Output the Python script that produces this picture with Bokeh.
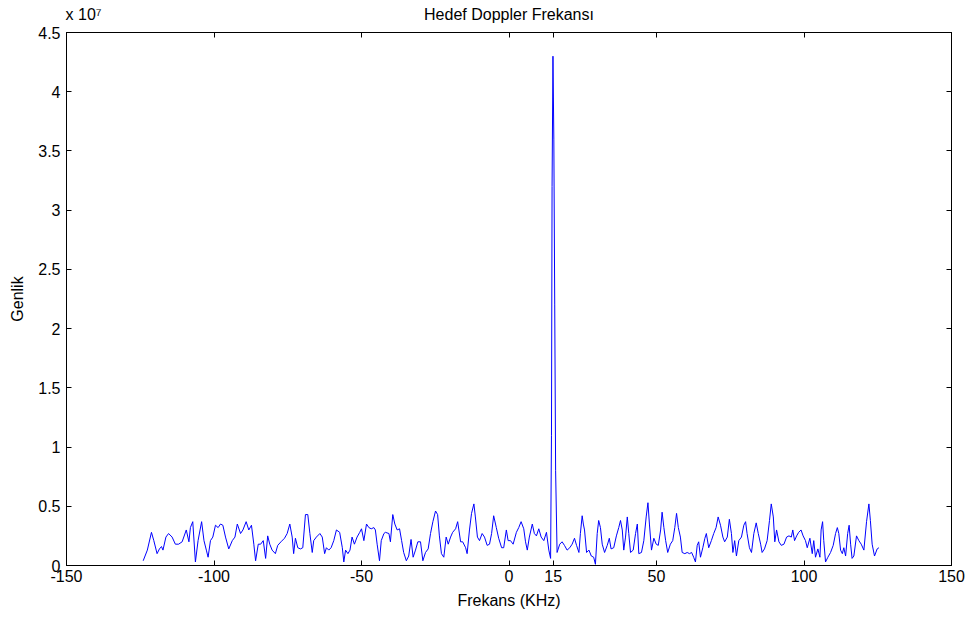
from bokeh.plotting import figure
from bokeh.models import Range1d, FixedTicker, LinearAxis, ColumnDataSource
from bokeh.embed import file_html
from bokeh.resources import INLINE

# Frequency (kHz) and amplitude (x 1e7)
frekans = [
    -124.0, -122.6, -121.2, -120.4, -119.3, -118.5, -117.8, -117.3, -116.3, -115.4,
    -114.2, -113.1, -112.0, -110.8, -109.4, -108.5, -108.0, -107.2, -106.3, -105.4,
    -104.2, -103.4, -102.6, -102.0, -101.2, -100.4, -99.5, -98.6, -97.8, -97.0,
    -96.1, -95.0, -93.8, -92.9, -92.1, -91.0, -90.2, -89.1, -88.2, -87.3,
    -86.5, -85.9, -85.0,
    -84.2, -83.3, -82.5, -81.8, -81.1, -80.3, -79.2, -78.4, -77.3, -76.1,
    -75.2, -74.3, -73.5, -73.0, -72.4, -71.6, -70.7, -69.9, -69.0, -68.2,
    -67.5, -66.7, -66.2, -65.3, -64.1, -63.3, -62.5, -61.9, -61.1, -60.3,
    -59.4, -58.5, -57.4, -56.5, -56.0, -55.4, -54.6, -53.9, -53.2, -52.4,
    -51.5, -50.6, -50.0, -49.2, -48.3, -47.5, -46.7, -45.8, -45.3, -44.7,
    -43.9, -43.3, -42.4,
    -41.9, -40.7, -40.2, -39.4, -38.7, -37.9, -37.1, -36.4, -35.7, -34.8,
    -34.0, -33.2, -32.5, -31.7, -30.9, -30.0, -29.2, -28.3, -27.4, -26.6,
    -25.8, -24.9, -24.2, -23.6, -22.9, -22.1, -21.3, -20.6, -19.8, -19.1,
    -18.1, -17.4, -16.4, -15.7, -14.7, -14.2, -13.4, -12.7, -11.9, -11.4,
    -10.7, -10.0, -9.1, -8.3, -7.4, -6.6, -5.9, -5.2, -4.3, -3.5,
    -2.5, -1.8, -0.9, -0.3,
    0.5, 1.4, 2.5, 3.3, 4.1, 5.0, 5.6, 6.2, 6.9, 7.9,
    8.6, 9.3, 10.1, 10.9, 11.8, 12.7, 13.5, 14.1,
    14.4, 14.6, 14.9, 15.2, 15.5, 15.8,
    16.3, 17.2, 18.0, 18.8, 19.7, 20.6, 21.4, 22.2, 22.9, 23.7,
    24.2, 24.8, 25.2, 25.6, 26.3, 27.1, 27.9, 28.7, 29.3, 29.9,
    30.4, 31.0, 31.6, 32.4, 33.3, 34.0, 34.6, 35.5, 36.4, 37.2,
    37.8, 38.4, 38.9, 39.5, 40.1, 40.6, 41.2, 42.1, 42.9, 43.5,
    44.0, 44.9, 45.7, 46.5, 47.1, 47.6, 48.3, 49.1, 49.9, 50.6,
    51.4, 51.9, 52.5, 53.1, 53.8, 54.7, 55.5, 56.2, 56.8, 57.4,
    58.1, 58.7, 59.6, 60.4, 61.2, 61.9, 62.6, 63.2, 63.8, 64.3,
    64.9, 65.7, 66.4, 66.9, 67.7, 68.6, 69.4, 70.2, 70.9, 71.7,
    72.5, 73.1, 74.0, 74.7, 75.4, 75.9, 76.5, 77.1, 77.9, 78.8,
    79.6, 80.2, 80.7, 81.5, 82.2, 83.0, 83.8, 84.5,
    85.3, 85.8, 86.6, 87.5, 88.3, 88.9, 89.6, 90.1, 90.7, 91.5,
    92.3, 93.2, 94.1, 94.9, 95.7, 96.2, 96.8, 97.5, 98.2, 99.0,
    99.7, 100.5, 101.1, 102.0, 102.8, 103.3, 103.9, 104.7, 105.4, 105.8,
    106.3, 106.7, 107.3, 108.1, 109.0, 109.9, 110.7, 111.3, 111.8, 112.4,
    113.0, 113.5, 114.1, 114.8, 115.3, 115.8, 116.3, 116.9, 117.8, 118.6,
    119.4, 120.3, 121.2, 122.0, 122.5, 123.1, 123.9, 124.8, 125.4,
]

genlik_e7 = [
    0.04, 0.13, 0.28, 0.21, 0.10, 0.14, 0.16, 0.13, 0.24, 0.27,
    0.24, 0.18, 0.18, 0.20, 0.30, 0.20, 0.32, 0.37, 0.03, 0.21,
    0.37, 0.21, 0.13, 0.07, 0.21, 0.24, 0.34, 0.32, 0.35, 0.34,
    0.24, 0.14, 0.21, 0.24, 0.35, 0.27, 0.30, 0.37, 0.30, 0.34,
    0.18, 0.04, 0.18,
    0.18, 0.21, 0.06, 0.25, 0.18, 0.13, 0.10, 0.17, 0.20, 0.23,
    0.27, 0.35, 0.24, 0.10, 0.23, 0.15, 0.14, 0.15, 0.43, 0.43,
    0.27, 0.11, 0.21, 0.24, 0.27, 0.24, 0.10, 0.15, 0.13, 0.15,
    0.21, 0.30, 0.28, 0.15, 0.03, 0.13, 0.10, 0.13, 0.24, 0.18,
    0.24, 0.28, 0.31, 0.21, 0.35, 0.32, 0.31, 0.32, 0.30, 0.18,
    0.04, 0.21, 0.27,
    0.28, 0.27, 0.20, 0.43, 0.35, 0.30, 0.31, 0.21, 0.11, 0.04,
    0.08, 0.22, 0.07, 0.13, 0.20, 0.20, 0.04, 0.11, 0.14, 0.27,
    0.37, 0.46, 0.43, 0.25, 0.10, 0.07, 0.24, 0.18, 0.24, 0.28,
    0.31, 0.37, 0.20, 0.20, 0.15, 0.10, 0.30, 0.44, 0.52, 0.41,
    0.24, 0.21, 0.27, 0.24, 0.17, 0.18, 0.27, 0.42, 0.32, 0.23,
    0.15, 0.15, 0.30, 0.21,
    0.21, 0.18, 0.28, 0.32, 0.37, 0.31, 0.20, 0.13, 0.24, 0.35,
    0.27, 0.25, 0.31, 0.24, 0.21, 0.28, 0.13, 0.06,
    1.1, 3.2, 4.3, 3.6, 2.2, 0.8,
    0.11, 0.18, 0.20, 0.17, 0.13, 0.15, 0.18, 0.23, 0.17, 0.11,
    0.27, 0.42, 0.35, 0.30, 0.11, 0.13, 0.08, 0.07, 0.01, 0.27,
    0.38, 0.32, 0.18, 0.11, 0.17, 0.23, 0.14, 0.15, 0.25, 0.32,
    0.38, 0.30, 0.13, 0.24, 0.41, 0.27, 0.11, 0.13, 0.27, 0.35,
    0.10, 0.11, 0.21, 0.41, 0.53, 0.35, 0.13, 0.23, 0.18, 0.17,
    0.30, 0.45, 0.32, 0.21, 0.11, 0.18, 0.21, 0.32, 0.44, 0.32,
    0.24, 0.11, 0.10, 0.11, 0.10, 0.11, 0.07, 0.03, 0.17, 0.20,
    0.07, 0.15, 0.23, 0.27, 0.15, 0.21, 0.27, 0.32, 0.41, 0.34,
    0.24, 0.20, 0.24, 0.39, 0.27, 0.11, 0.21, 0.08, 0.21, 0.24,
    0.34, 0.37, 0.27, 0.15, 0.11, 0.27, 0.36, 0.27,
    0.18, 0.11, 0.14, 0.21, 0.38, 0.52, 0.41, 0.20, 0.30, 0.20,
    0.17, 0.18, 0.24, 0.25, 0.24, 0.30, 0.21, 0.25, 0.28, 0.30,
    0.25, 0.21, 0.15, 0.23, 0.10, 0.21, 0.07, 0.14, 0.07, 0.30,
    0.37, 0.21, 0.03, 0.07, 0.11, 0.17, 0.27, 0.32, 0.27, 0.13,
    0.10, 0.15, 0.08, 0.27, 0.34, 0.18, 0.06, 0.08, 0.25, 0.21,
    0.18, 0.13, 0.37, 0.52, 0.38, 0.18, 0.08, 0.14, 0.15,
]

x_ticks = [-150, -100, -50, 0, 15, 50, 100, 150]
x_tick_labels = ["-150", "-100", "-50", "0", "15", "50", "100", "150"]
y_ticks = [0, 0.5, 1, 1.5, 2, 2.5, 3, 3.5, 4, 4.5]
y_tick_labels = ["0", "0.5", "1", "1.5", "2", "2.5", "3", "3.5", "4", "4.5"]

title_text = "Hedef Doppler Frekansı"
multiplier_text = "x 10\u2077"
# where the header texts sit along the x axis (title centred, multiplier at left edge)
header_pos = [-144.2, 0]
header_text = [multiplier_text, title_text]

FONT = "Liberation Sans"
FS = "16px"

p = figure(width=972, height=619, output_backend="svg", toolbar_location=None,
           title=None,
           x_range=Range1d(-150, 150), y_range=Range1d(0, 4.5),
           min_border_left=66, min_border_right=21, min_border_top=32, min_border_bottom=54)
p.background_fill_color = "white"
p.border_fill_color = "white"
p.outline_line_color = "black"
p.outline_line_width = 1
p.xgrid.visible = False
p.ygrid.visible = False

src = ColumnDataSource(dict(x=frekans, y=genlik_e7))
p.line("x", "y", source=src, line_color="#0000ff", line_width=1)

def style_axis(ax, ticks, labels, show_labels=True):
    ax.ticker = FixedTicker(ticks=ticks)
    if show_labels:
        ax.major_label_overrides = {t: l for t, l in zip(ticks, labels)}
    else:
        ax.major_label_overrides = {t: "" for t in ticks}
    ax.major_tick_in = 5
    ax.major_tick_out = 0
    ax.minor_tick_line_color = None
    ax.axis_line_color = "black"
    ax.major_tick_line_color = "black"
    ax.major_label_text_font = FONT
    ax.major_label_text_font_size = FS
    ax.major_label_text_color = "black"

style_axis(p.xaxis[0], x_ticks, x_tick_labels)
style_axis(p.yaxis[0], y_ticks, y_tick_labels)
p.xaxis[0].major_label_standoff = 4
p.yaxis[0].major_label_standoff = 6

p.xaxis[0].axis_label = "Frekans (KHz)"
p.yaxis[0].axis_label = "Genlik"
for ax in (p.xaxis[0], p.yaxis[0]):
    ax.axis_label_text_font = FONT
    ax.axis_label_text_font_size = FS
    ax.axis_label_text_font_style = "normal"
    ax.axis_label_text_color = "black"
p.xaxis[0].axis_label_standoff = 7
p.yaxis[0].axis_label_standoff = 9

# top ticks (box style)
top_ax = LinearAxis()
style_axis(top_ax, x_ticks, x_tick_labels, show_labels=False)
top_ax.major_label_standoff = 0
top_ax.major_label_text_font_size = "1px"
p.add_layout(top_ax, "above")

# header row: multiplier and title
head_ax = LinearAxis()
head_ax.ticker = FixedTicker(ticks=header_pos)
head_ax.major_label_overrides = {t: l for t, l in zip(header_pos, header_text)}
head_ax.axis_line_color = None
head_ax.major_tick_line_color = None
head_ax.minor_tick_line_color = None
head_ax.major_tick_in = 0
head_ax.major_tick_out = 0
head_ax.major_label_standoff = 10
head_ax.major_label_text_font = FONT
head_ax.major_label_text_font_size = FS
head_ax.major_label_text_color = "black"
p.add_layout(head_ax, "above")

right_ax = LinearAxis()
style_axis(right_ax, y_ticks, y_tick_labels, show_labels=False)
right_ax.major_label_standoff = 0
right_ax.major_label_text_font_size = "1px"
p.add_layout(right_ax, "right")

open("out.html", "w").write(file_html(p, INLINE))
